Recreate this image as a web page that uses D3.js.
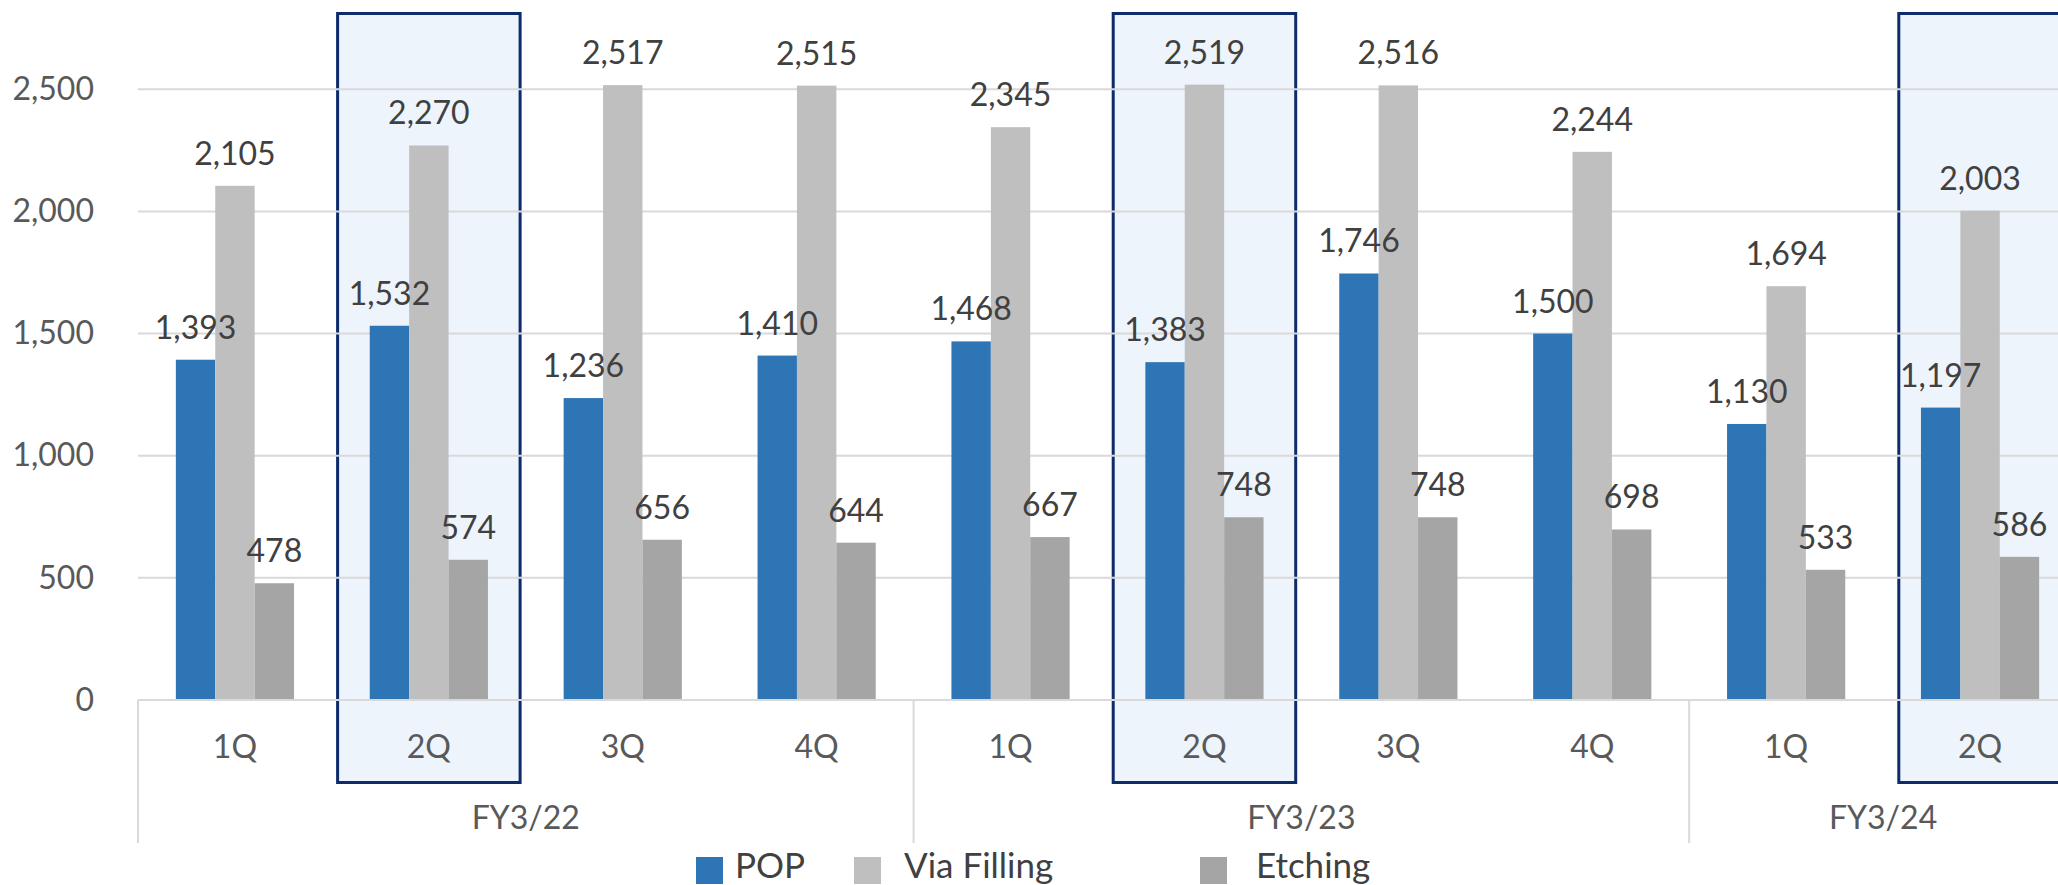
<!DOCTYPE html>
<html>
<head>
<meta charset="utf-8">
<script src="https://cdn.jsdelivr.net/npm/d3@7"></script>
<style>
  body { margin: 0; background: #fff; overflow: hidden; }
  svg { display: block; font-family: Lato, "Open Sans", sans-serif; }
</style>
</head>
<body>
<div id="vis"></div>
<script>
const FRAME_WIDTH = 2058;
const FRAME_HEIGHT = 885;

// data
const quarters = ["1Q", "2Q", "3Q", "4Q", "1Q", "2Q", "3Q", "4Q", "1Q", "2Q"];
const fiscalYears = ["FY3/22", "FY3/23", "FY3/24"];
const quartersPerYear = [4, 4, 2];
const seriesNames = ["POP", "Via Filling", "Etching"];
const pop = [1393, 1532, 1236, 1410, 1468, 1383, 1746, 1500, 1130, 1197];
const viaFilling = [2105, 2270, 2517, 2515, 2345, 2519, 2516, 2244, 1694, 2003];
const etching = [478, 574, 656, 644, 667, 748, 748, 698, 533, 586];
const yTicks = [0, 500, 1000, 1500, 2000, 2500];
const highlighted = [1, 5, 9]; // the 2Q boxes

const COLORS = ["#2E75B6", "#BFBFBF", "#A5A5A5"];
const seriesValues = [pop, viaFilling, etching];

// layout
const PLOT_LEFT = 138;
const CAT_WIDTH = 193.9;
const PLOT_RIGHT = PLOT_LEFT + CAT_WIDTH * quarters.length;
const BASE_Y = 700;
const GROUP_WIDTH = 118.2;
const BOX_WIDTH = 182.5;
const BOX_NUDGE = [0, 0, 10]; // last box sits a little to the right in the original

const FRAME = d3.select("#vis")
  .append("svg")
    .attr("width", FRAME_WIDTH)
    .attr("height", FRAME_HEIGHT);

const X_SCALE = d3.scaleBand()
  .domain(d3.range(quarters.length))
  .range([PLOT_LEFT, PLOT_RIGHT]);

const X_INNER = d3.scaleBand()
  .domain(seriesNames)
  .range([0, GROUP_WIDTH]);

const Y_SCALE = d3.scaleLinear()
  .domain([0, 3000])
  .range([BASE_Y, BASE_Y - 3000 * 0.24428]);

// highlight boxes behind everything
FRAME.selectAll(".hbox")
  .data(highlighted)
  .enter()
  .append("rect")
    .attr("x", (d, i) => X_SCALE(d) + (CAT_WIDTH - BOX_WIDTH) / 2 + BOX_NUDGE[i])
    .attr("y", 13.5)
    .attr("width", BOX_WIDTH)
    .attr("height", 782.5 - 13.5)
    .attr("fill", "#EDF4FB")
    .attr("stroke", "#0E2B6B")
    .attr("stroke-width", 3);

// gridlines
FRAME.selectAll(".grid")
  .data(yTicks)
  .enter()
  .append("line")
    .attr("x1", PLOT_LEFT)
    .attr("x2", PLOT_RIGHT)
    .attr("y1", d => Y_SCALE(d))
    .attr("y2", d => Y_SCALE(d))
    .attr("stroke", "#D9D9D9")
    .attr("stroke-width", 2);

// y axis labels
FRAME.append("g")
  .attr("transform", "translate(" + PLOT_LEFT + ",0)")
  .call(d3.axisLeft(Y_SCALE).tickValues(yTicks).tickFormat(d3.format(",")).tickSize(0).tickPadding(44))
  .call(g => g.select(".domain").remove())
  .selectAll("text")
    .attr("font-family", "Lato, 'Open Sans', sans-serif")
    .attr("font-size", "32px")
    .attr("fill", "#595959");

// bars
const groups = FRAME.selectAll(".group")
  .data(quarters.map((q, i) => i))
  .enter()
  .append("g")
    .attr("transform", d => "translate(" + (X_SCALE(d) + (CAT_WIDTH - GROUP_WIDTH) / 2) + ",0)");

groups.selectAll("rect")
  .data(d => seriesNames.map((s, j) => ({series: s, j: j, value: seriesValues[j][d]})))
  .enter()
  .append("rect")
    .attr("x", d => X_INNER(d.series))
    .attr("y", d => Y_SCALE(d.value))
    .attr("width", X_INNER.bandwidth())
    .attr("height", d => BASE_Y - Y_SCALE(d.value))
    .attr("fill", d => COLORS[d.j]);

groups.selectAll("text")
  .data(d => seriesNames.map((s, j) => ({series: s, j: j, value: seriesValues[j][d]})))
  .enter()
  .append("text")
    .attr("x", d => X_INNER(d.series) + X_INNER.bandwidth() / 2)
    .attr("y", d => Y_SCALE(d.value) - 21)
    .attr("text-anchor", "middle")
    .attr("font-size", "32px")
    .attr("fill", "#404040")
    .text(d => d3.format(",")(d.value));

// category axis: baseline + separators
FRAME.append("line")
  .attr("x1", PLOT_LEFT).attr("x2", PLOT_RIGHT)
  .attr("y1", BASE_Y).attr("y2", BASE_Y)
  .attr("stroke", "#D9D9D9").attr("stroke-width", 2);

const yearStarts = [0];
quartersPerYear.forEach((n, i) => yearStarts.push(yearStarts[i] + n));

FRAME.selectAll(".sep")
  .data(yearStarts)
  .enter()
  .append("line")
    .attr("x1", d => d < quarters.length ? X_SCALE(d) : PLOT_RIGHT)
    .attr("x2", d => d < quarters.length ? X_SCALE(d) : PLOT_RIGHT)
    .attr("y1", BASE_Y)
    .attr("y2", 843)
    .attr("stroke", "#D9D9D9")
    .attr("stroke-width", 2);

FRAME.selectAll(".qlabel")
  .data(quarters)
  .enter()
  .append("text")
    .attr("x", (d, i) => X_SCALE(i) + CAT_WIDTH / 2)
    .attr("y", 758)
    .attr("text-anchor", "middle")
    .attr("font-size", "32px")
    .attr("fill", "#595959")
    .text(d => d);

FRAME.selectAll(".ylabel")
  .data(fiscalYears)
  .enter()
  .append("text")
    .attr("x", (d, i) => X_SCALE(yearStarts[i]) + quartersPerYear[i] * CAT_WIDTH / 2)
    .attr("y", 829)
    .attr("text-anchor", "middle")
    .attr("font-size", "32px")
    .attr("fill", "#595959")
    .text(d => d);

// legend
const LEGEND_SWATCH_X = [696, 854, 1200];
const LEGEND_TEXT_X = [735, 904, 1256];

FRAME.selectAll(".lsw")
  .data(seriesNames)
  .enter()
  .append("rect")
    .attr("x", (d, i) => LEGEND_SWATCH_X[i])
    .attr("y", 857)
    .attr("width", 27)
    .attr("height", 27)
    .attr("fill", (d, i) => COLORS[i]);

FRAME.selectAll(".ltx")
  .data(seriesNames)
  .enter()
  .append("text")
    .attr("x", (d, i) => LEGEND_TEXT_X[i])
    .attr("y", 878)
    .attr("font-size", "35px")
    .attr("fill", "#404040")
    .text(d => d);
</script>
</body>
</html>
